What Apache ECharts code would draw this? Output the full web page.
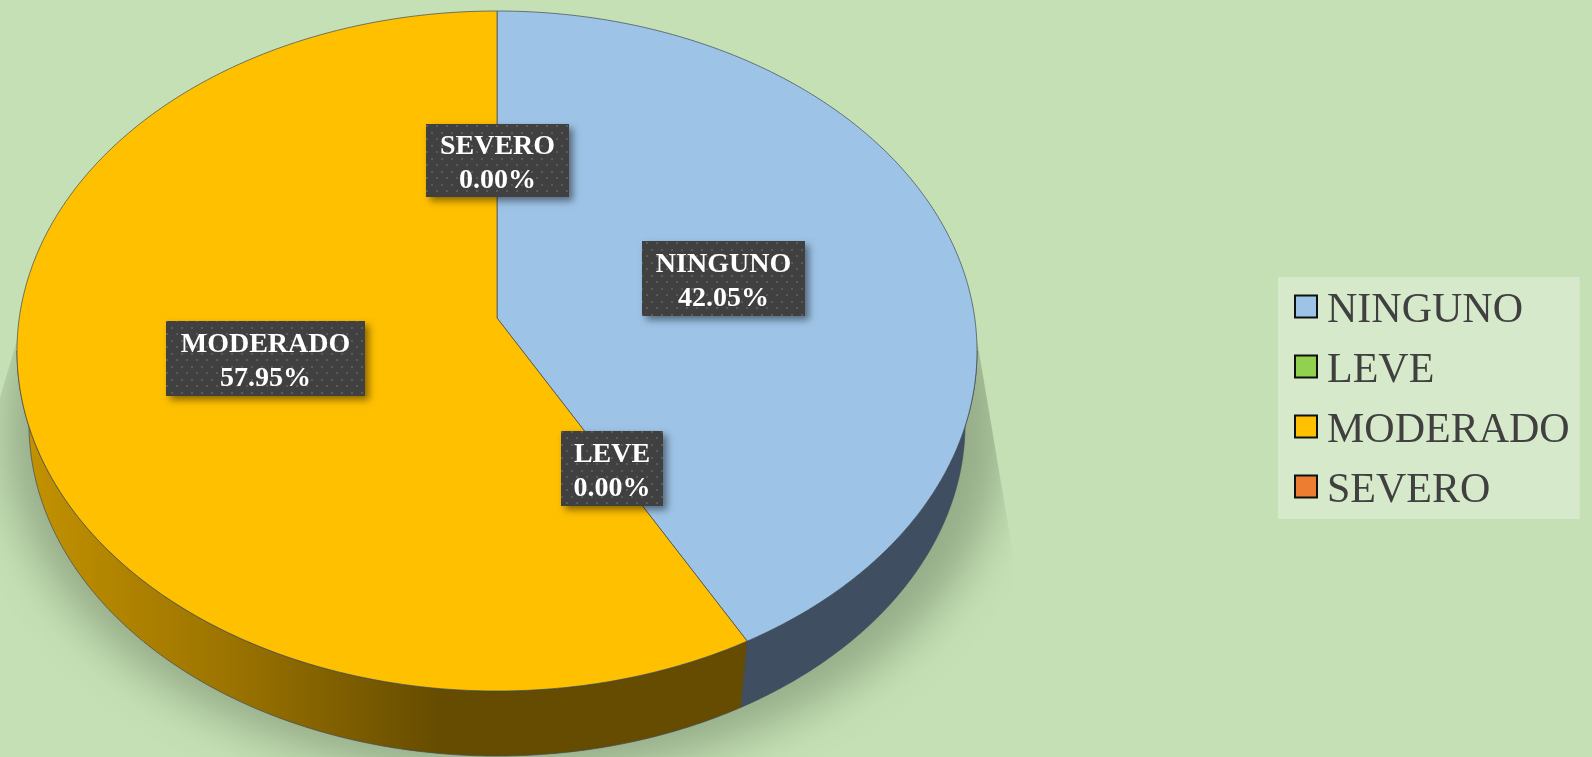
<!DOCTYPE html>
<html><head><meta charset="utf-8">
<style>html,body{margin:0;padding:0;background:#C5E0B4;overflow:hidden}#c{width:1592px;height:757px}</style>
<script src="https://cdn.jsdelivr.net/npm/echarts@6/dist/echarts.min.js"></script>
</head><body><div id="c"></div>
<script>
const categories = ['NINGUNO','LEVE','MODERADO','SEVERO'];
const values = [42.05,0,57.95,0];
const colors = ['#9DC3E6','#92D050','#FFC000','#ED7D31'];
const wallColors = ['#3F4F61','#567A2E','#664C00','#8A4A1C'];
// label box centres (layout only)
const labelCentres = [[723.5,278.5],[612,468.5],[265.5,358.5],[497.5,160.5]];
const labelSizes = [[163,75],[102,75],[199,75],[143,73]];

const top_ = {cx:497,cy:351,rx:480,ry:340};
const low = {cx:497,cy:424,rx:468,ry:332};
const apex = [497,318];
const persp = 0.907;
const warp = t => 2*Math.atan2(persp*Math.sin(t/2),Math.cos(t/2));
const pt = (e,p) => [e.cx+e.rx*Math.sin(p), e.cy-e.ry*Math.cos(p)];
const total = values.reduce((a,b)=>a+b,0);
const starts = values.map((v,i)=>values.slice(0,i).reduce((a,b)=>a+b,0)/total*2*Math.PI);
function arc(e,a,b){const n=Math.max(2,Math.ceil(Math.abs(b-a)*120)),o=[];
  for(let i=0;i<=n;i++){o.push(pt(e,a+(b-a)*i/n));}return o;}

const pat = document.createElement('canvas');pat.width=10;pat.height=13;
const g = pat.getContext('2d');g.fillStyle='#404040';g.fillRect(0,0,10,13);
g.fillStyle='#5A5A5A';g.fillRect(1,2,2,2);g.fillRect(6,8,2,2);

const outline='rgba(62,72,84,0.7)';
const series=[];
const OFF=3000;
series.push({type:'custom',name:'_shadow',coordinateSystem:'none',z:1,silent:true,data:[[1]],
  renderItem(){
    const pts=arc({cx:505-OFF,cy:432,rx:500,ry:345},0,Math.PI*2);
    return {type:'group',
      clipPath:{type:'polygon',shape:{points:[[977,340],[1012,548],[1012,757],[-30,757],[-30,500],[17,340]]}},
      children:[{type:'polygon',shape:{points:pts},
        style:{fill:'#9DB390',shadowBlur:45,shadowColor:'#96AD89',shadowOffsetX:OFF}}]};
  }});
categories.forEach((name,i)=>{
  series.push({type:'custom',name,coordinateSystem:'none',z:2+(i===2?1:0),silent:true,
    itemStyle:{color:colors[i]},data:[[values[i]]],
    renderItem(params,api){
      const v=api.value(0);
      if(!v) return {type:'group',children:[]};
      const a=warp(starts[i]),b=warp(starts[i]+v/total*2*Math.PI);
      const wa=Math.max(a,Math.PI*0.5),wb=Math.min(b,Math.PI*1.5);
      const kids=[];
      if(wb>wa){
        const wallPts=arc(top_,wa,wb).concat(arc(low,wb,wa));
        const fill=i===2?{type:'linear',x:25,y:0,x2:740,y2:0,global:true,colorStops:[
          {offset:0,color:'#C39200'},{offset:0.28,color:'#9C7400'},{offset:0.58,color:'#664C00'},{offset:1,color:'#664C00'}]}:wallColors[i];
        kids.push({type:'polygon',shape:{points:wallPts},style:{fill,stroke:outline,lineWidth:1}});
      }
      kids.push({type:'polygon',shape:{points:[apex].concat(arc(top_,a,b))},
        style:{fill:colors[i],stroke:outline,lineWidth:1,lineJoin:'round'}});
      return {type:'group',children:kids};
    }});
});
series.push({type:'custom',name:'_labels',coordinateSystem:'none',z:10,silent:true,
  data:categories.map((c,i)=>[values[i]]),
  renderItem(params,api){
    const i=params.dataIndex,[x,y]=labelCentres[i],[w,h]=labelSizes[i];
    const rect={x:Math.round(x-w/2),y:Math.round(y-h/2),width:w,height:h};
    return {type:'group',children:[
      {type:'rect',shape:rect,style:{fill:'#404040',shadowBlur:7,shadowOffsetX:4,shadowOffsetY:4,shadowColor:'rgba(0,0,0,0.45)'}},
      {type:'rect',shape:rect,style:{fill:{image:pat,repeat:'repeat'}}},
      {type:'text',x:x,y:y+3,style:{text:categories[i]+'\n'+api.value(0).toFixed(2)+'%',fill:'#fff',
        font:'bold 28px "Liberation Serif"',align:'center',verticalAlign:'middle',lineHeight:34}}
    ]};
  }});

const chart=echarts.init(document.getElementById('c'),null,{renderer:'canvas'});
chart.setOption({
  animation:false,backgroundColor:'#C5E0B4',
  legend:{orient:'vertical',left:1278,top:277,padding:[13,10,7,16],itemGap:18,itemWidth:22,itemHeight:22,
    backgroundColor:'rgba(255,255,255,0.3)',selectedMode:false,icon:'rect',
    formatter:'{t|{name}}',
    textStyle:{fontFamily:'"Liberation Serif"',fontSize:42,color:'#404040',
      rich:{t:{fontFamily:'"Liberation Serif"',fontSize:42,color:'#404040',padding:[9,0,0,5]}}},
    data:categories.map((name,i)=>({name,itemStyle:{color:colors[i],borderColor:'#111',borderWidth:2}}))},
  series
});
</script></body></html>
